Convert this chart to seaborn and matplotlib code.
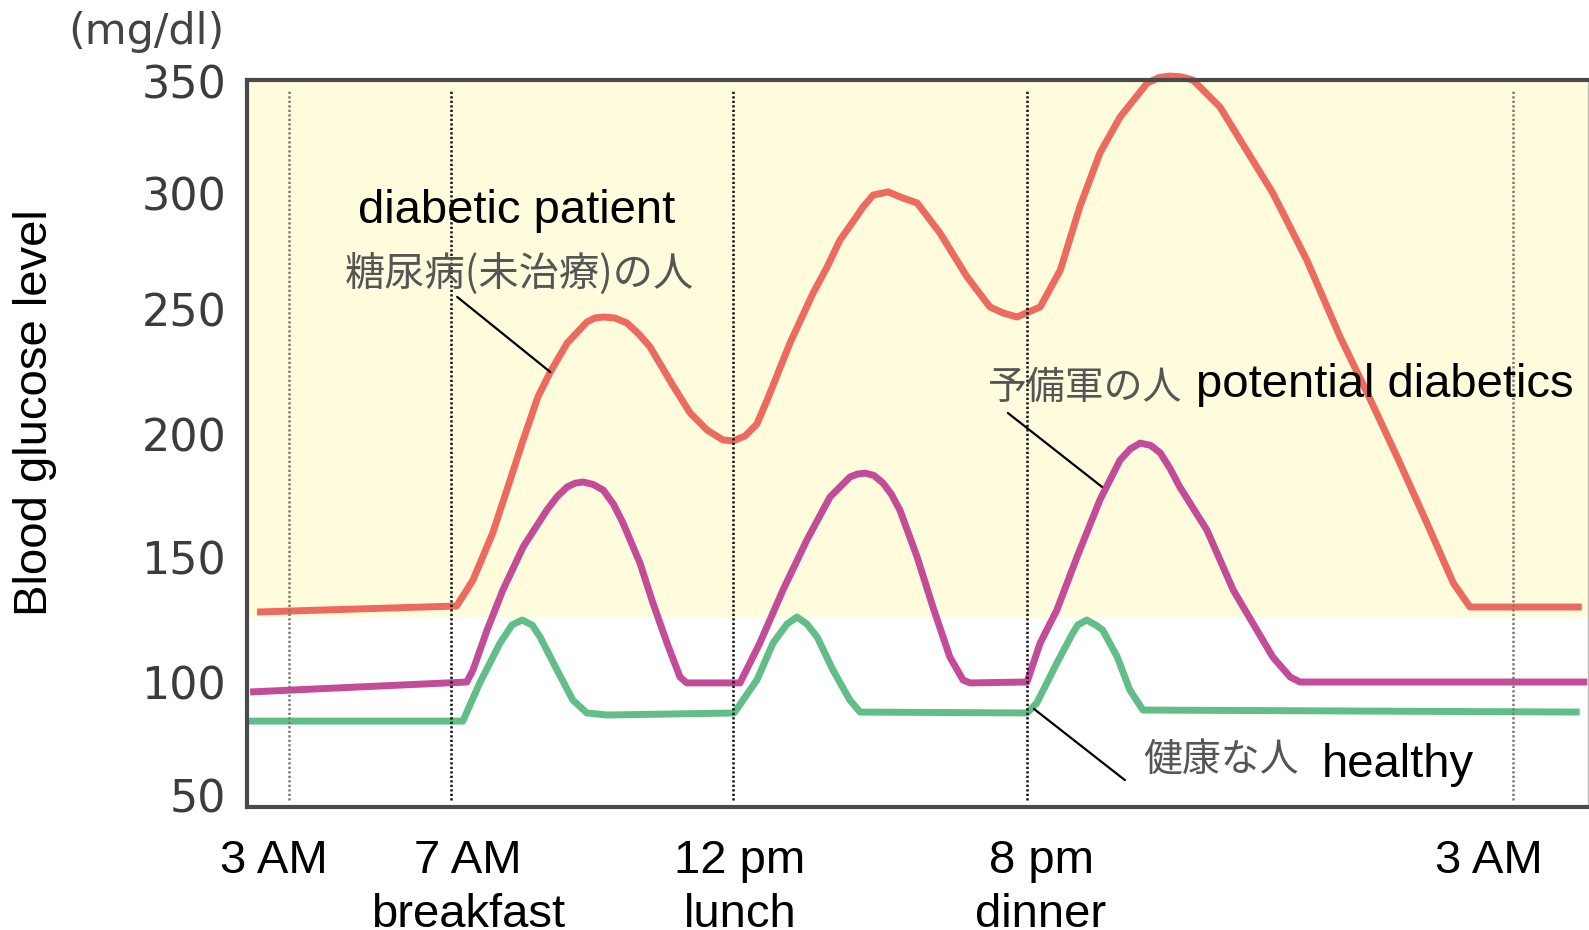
"""
Blood glucose over one day: diabetic patient / potential diabetics / healthy.
The original axis is hand drawn, so hours and mg/dl are not evenly spaced;
a piecewise function scale keeps ticks and curves where the picture has them.
"""
import numpy as np
import pandas as pd
import seaborn as sns
import matplotlib
matplotlib.use("Agg")
from matplotlib import pyplot as plt
from matplotlib.transforms import offset_copy

# hours of the day (27 = 3 AM next day) and glucose in mg/dl
red_hours = [2.21, 7.1, 7.39, 7.74, 7.99, 8.28, 8.54, 8.76, 9.06, 9.41, 9.55, 9.70, 9.91,
             10.12, 10.33, 10.53, 10.94, 11.24, 11.54, 11.82, 12.0, 12.33, 12.65, 12.93,
             13.55, 14.18, 14.56, 14.91, 15.24, 15.54, 15.81, 16.22, 16.63, 17.01, 17.63,
             18.37, 18.99, 19.35, 19.73, 20.19, 20.48, 20.76, 21.05, 21.34, 21.73, 21.90,
             22.06, 22.22, 22.39, 22.78, 23.07, 23.54, 24.03, 24.51, 24.90, 25.33, 25.76,
             26.14, 26.38, 27.99]
red_mgdl = [128, 130.4, 140.8, 159.8, 177.2, 197.6, 214.8, 224.8, 236.4, 244.8, 246.4, 246.8, 246.4,
            244.4, 240.0, 234.8, 219.2, 208.4, 201.6, 197.6, 197.2, 199.2, 204, 213.6,
            236.4, 256.9, 268.1, 279.7, 287.1, 294.0, 299.1, 300.5, 297.8, 295.7, 282.8,
            263.8, 250.9, 248.4, 246.8, 250.9, 266.8, 294.0, 318.0, 334.2, 349.5, 352.0,
            352.7, 352.3, 350.9, 338.7, 323.9, 300.0, 271.1, 238.8, 216.4, 190.7, 163.8,
            139.6, 130.0, 130.0]

purple_hours = [2.04, 7.28, 7.39, 7.64, 7.92, 8.28, 8.70, 8.88, 9.06, 9.20, 9.34, 9.52, 9.70,
                9.88, 10.05, 10.35, 10.58, 10.83, 11.06, 11.18, 12.19, 12.73, 13.36, 14.01,
                14.64, 15.18, 15.38, 15.59, 15.83, 16.08, 16.31, 16.54, 17.01, 17.44, 17.90,
                18.26, 18.45, 20.0, 20.19, 20.43, 20.72, 21.05, 21.34, 21.49, 21.63, 21.78,
                21.92, 22.06, 22.20, 22.59, 22.97, 23.31, 23.54, 23.79, 23.93, 28.07]
purple_mgdl = [95.6, 100, 104.8, 120.8, 136.8, 154.1, 169.1, 174.5, 178.5, 180.0, 180.5, 179.5, 177.2,
               171.5, 163.8, 147.6, 131.6, 115.6, 102, 99.6, 99.6, 115.6, 136.8, 156.9,
               174.4, 182.5, 183.7, 184.1, 183.2, 180.1, 175.5, 169.1, 150, 130, 110,
               100.8, 99.6, 100, 115.6, 128.8, 150, 173.2, 189.4, 194.0, 196.3, 195.4,
               192.3, 186.0, 178.5, 161.0, 136.8, 120.8, 110, 102, 100, 100]

green_hours = [1.97, 7.21, 7.51, 7.87, 8.08, 8.26, 8.44, 8.58, 8.88, 9.16, 9.41, 9.77,
               12.03, 12.65, 13.09, 13.47, 13.74, 14.01, 14.29, 14.72, 15.18, 15.46,
               20.0, 20.14, 20.43, 20.66, 20.73, 20.86, 20.99, 21.09, 21.30, 21.48, 21.67,
               27.96]
green_mgdl = [82.7, 82.7, 99.6, 115.6, 122.8, 124.8, 122.8, 118, 104.8, 92.0, 86.3, 85.4,
              86.3, 100.8, 115.6, 123.2, 126, 123.2, 118, 104.8, 92.0, 86.7,
              86.3, 90.7, 107.6, 119.6, 122.8, 124.8, 122.8, 120.8, 110, 96.5, 87.6,
              86.7]

event_hours = [3, 7, 12, 20, 27]
event_labels = ["3 AM", "7 AM\nbreakfast", "12 pm\nlunch", "8 pm\ndinner", "3 AM"]
y_ticks = [50, 100, 150, 200, 250, 300, 350]
high_zone = 126  # yellow band starts here

# scale anchors (picture pixels for each hour / mg/dl)
x_anchor_h = [0, 3, 7, 12, 20, 27, 30]
x_anchor_px = [167.5, 289, 451, 733, 1027, 1513, 1721.3]
y_anchor_v = [0, 50, 100, 150, 200, 250, 300, 350, 400]
y_anchor_px = np.array([908, 795, 682, 557, 434, 309, 193, 82, -29])


def x_fwd(h):
    return np.interp(h, x_anchor_h, x_anchor_px)


def x_inv(p):
    return np.interp(p, x_anchor_px, x_anchor_h)


def y_fwd(v):
    return np.interp(v, y_anchor_v, -y_anchor_px)


def y_inv(p):
    return np.interp(p, -y_anchor_px, y_anchor_v)


sns.set_theme(style="white")
plt.rcParams['font.family'] = ['Liberation Sans', 'Noto Sans CJK JP', 'DejaVu Sans']
plt.rcParams['text.color'] = 'black'
cjk = ['Noto Sans CJK JP', 'DejaVu Sans']

curves = pd.concat([
    pd.DataFrame({"hour": red_hours, "mgdl": red_mgdl, "group": "diabetic"}),
    pd.DataFrame({"hour": purple_hours, "mgdl": purple_mgdl, "group": "potential"}),
    pd.DataFrame({"hour": green_hours, "mgdl": green_mgdl, "group": "healthy"}),
], ignore_index=True)
palette = {"diabetic": "#EC6A5E", "potential": "#C24C98", "healthy": "#62BE87"}

fig = plt.figure(figsize=(15.89, 9.30), dpi=100)
ax = fig.add_axes([247 / 1589, 1 - 807 / 930, (1588 - 247) / 1589, (807 - 80) / 930])

sns.lineplot(data=curves, x="hour", y="mgdl", hue="group", palette=palette,
             linewidth=5, legend=False, errorbar=None, estimator=None,
             clip_on=False, ax=ax)
for line in ax.get_lines():
    line.set_solid_joinstyle("round")
    line.set_solid_capstyle("butt")

ax.set_xscale("function", functions=(x_fwd, x_inv))
ax.set_yscale("function", functions=(y_fwd, y_inv))
ax.set_xlim(1.963, 28.08)
ax.set_ylim(44.7, 350.9)

# yellow zone above 126 mg/dl
ax.axhspan(high_zone, 350.9, color="#FFFBDD", zorder=0, lw=0)

# dotted time markers
for h in event_hours:
    c = "#7a7a72" if h in (3, 27) else "#111111"
    ax.axvline(h, ymin=0.01, ymax=0.986, color=c, lw=1.8,
               linestyle=(0, (0.9, 0.9)), zorder=3)

# pointer lines
ax.plot([7.11, 8.76], [255.2, 224.8], color="black", lw=1.6, zorder=4)
ax.plot([19.48, 21.08], [208.4, 178.5], color="black", lw=1.6, zorder=4)
ax.plot([20.10, 21.41], [88.1, 56.6], color="black", lw=1.6, zorder=4)

ax.text(8.17, 292.2, "diabetic patient", ha="center", va="center", fontsize=34, zorder=5)
ax.text(8.22, 265.1, "糖尿病(未治療)の人", ha="center", va="center", fontsize=29,
        color="#555555", family=cjk, zorder=5)
ax.text(18.94, 218.4, "予備軍の人", ha="left", va="center", fontsize=28,
        color="#555555", family=cjk, zorder=5)
ax.text(22.43, 219.6, "potential diabetics", ha="left", va="center", fontsize=34, zorder=5)
ax.text(21.67, 65.5, "健康な人", ha="left", va="center", fontsize=28,
        color="#555555", family=cjk, zorder=5)
ax.text(24.25, 63.3, "healthy", ha="left", va="center", fontsize=34, zorder=5)

# x labels, nudged like in the picture
label_shift_px = [-15, 17, 7, 14, -24]
ax.set_xticks([])
for h, lab, dx in zip(event_hours, event_labels, label_shift_px):
    tr = offset_copy(ax.get_xaxis_transform(), fig=fig, x=dx, y=0, units="dots")
    ax.text(h, -0.044, lab, transform=tr, ha="center", va="top", fontsize=34,
            linespacing=1.3)

ax.set_yticks(y_ticks)
ax.set_yticklabels([str(t) for t in y_ticks])
ax.yaxis.set_minor_locator(matplotlib.ticker.NullLocator())
ax.xaxis.set_minor_locator(matplotlib.ticker.NullLocator())
ax.tick_params(axis="both", length=0)
ax.tick_params(axis="y", pad=15, labelsize=32, labelcolor="#3c3c3c")
for lab in ax.get_yticklabels():
    lab.set_family("DejaVu Sans")
ax.set_xlabel("")
ax.set_ylabel("")

for side in ("left", "top", "bottom"):
    ax.spines[side].set_linewidth(3)
    ax.spines[side].set_color("#4a4a4a")
ax.spines["right"].set_linewidth(1)
ax.spines["right"].set_color("#bbbbbb")

fig.text(35 / 1589, 1 - 413 / 930, "Blood glucose level", rotation=90,
         ha="center", va="center", fontsize=34)
fig.text(146 / 1589, 1 - 32 / 930, "(mg/dl)", ha="center", va="center",
         fontsize=31, color="#444444", family="DejaVu Sans")

fig.savefig("out.png", dpi=100)
